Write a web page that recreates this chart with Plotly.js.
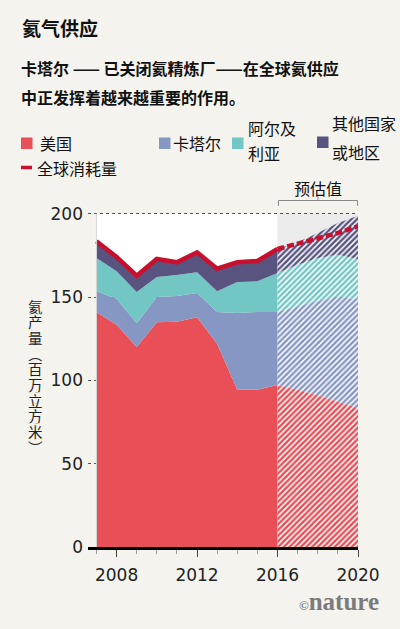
<!DOCTYPE html>
<html><head><meta charset="utf-8">
<script src="https://cdn.plot.ly/plotly-3.0.1.min.js"></script>
<style>html,body{margin:0;padding:0;background:#f4f3ed;}</style>
</head><body><div id="chart" style="width:400px;height:629px;"></div>
<script>
// ---- data (million cubic metres) ----
const years       = [2007, 2008, 2009, 2010, 2011, 2012, 2013, 2014, 2015, 2016, 2017, 2018, 2019, 2020];
const usa         = [141, 133.4, 120, 134.8, 135.2, 137.8, 122, 94.4, 94.4, 97.2, 94.4, 91, 87.2, 83.4];
const qatar       = [12.4, 15.6, 14.4, 15.2, 15.4, 14.6, 19, 46, 46.6, 43.8, 50, 56.8, 62.6, 65.4];
const algeria     = [20, 16.4, 18.6, 12, 12.6, 12.4, 12.4, 18.6, 18.4, 23.4, 25, 25.6, 25.6, 24];
const others      = [10, 8.6, 9.8, 10.8, 7.6, 12, 13.6, 11.8, 12.2, 14.4, 13.4, 15, 19, 26];
const consumption = [183.4, 174, 162.8, 172.8, 170.8, 176.8, 167, 170.8, 171.6, 178.8, 181.8, 185, 188.4, 192.4];
const lastActualYear = 2016;
const seriesNames = ['美国', '卡塔尔', '阿尔及利亚', '其他国家或地区'];
const consumptionName = '全球消耗量';
const yTicks = [0, 50, 100, 150, 200];

// ---- styles ----
const colors = ['#e84f56', '#8697c4', '#72c6c4', '#58537f'];
const lineColor = '#c8102e';
const CJK = '"Noto Sans CJK SC", "Noto Sans", sans-serif';
const NUM = '"DejaVu Sans", Verdana, sans-serif';

const W = 400, H = 629, L = 88, R = 42, T = 211, B = 82;
const pw = W - L - R, ph = H - T - B;
const px = x => (x - L) / pw;
const py = y => (H - B - y) / ph;

const split = years.indexOf(lastActualYear);
const histX = years.slice(0, split + 1);
const fcX = years.slice(split);
const allSeries = [usa, qatar, algeria, others];

const traces = [];
allSeries.forEach((vals, i) => {
  traces.push({
    type: 'scatter', mode: 'lines', name: seriesNames[i], showlegend: false,
    x: histX, y: vals.slice(0, split + 1), stackgroup: 'hist',
    line: {width: 0, color: colors[i]}, fillcolor: colors[i], hoverinfo: 'skip'
  });
});
allSeries.forEach((vals, i) => {
  traces.push({
    type: 'scatter', mode: 'lines', name: seriesNames[i], showlegend: false,
    x: fcX, y: vals.slice(split), stackgroup: 'fc',
    line: {width: 0, color: colors[i]}, fillcolor: colors[i],
    fillpattern: {shape: '/', fgcolor: colors[i], bgcolor: '#ffffff', size: 4, solidity: 0.62},
    hoverinfo: 'skip'
  });
});
traces.push({
  type: 'scatter', mode: 'lines', name: consumptionName, showlegend: false,
  x: histX, y: consumption.slice(0, split + 1),
  line: {color: lineColor, width: 4.5}, hoverinfo: 'skip'
});
traces.push({
  type: 'scatter', mode: 'lines', name: consumptionName, showlegend: false,
  x: fcX, y: consumption.slice(split),
  line: {color: lineColor, width: 4.5, dash: '7px,3px'}, hoverinfo: 'skip'
});

const annotations = [];
function txt(text, x, y, size, opts) {
  annotations.push(Object.assign({
    text: text, xref: 'paper', yref: 'paper', x: px(x), y: py(y),
    xanchor: 'left', yanchor: 'middle', showarrow: false,
    font: {family: CJK, size: size, color: '#111'}
  }, opts || {}));
}
// subtitle
txt('<b>卡塔尔 —— 已关闭氦精炼厂——在全球氦供应</b>', 19, 68, 16);
txt('<b>中正发挥着越来越重要的作用。</b>', 19, 97, 16);
// legend texts
txt('美国', 38, 143, 16);
txt('卡塔尔', 171, 143, 16);
txt('阿尔及', 246, 128, 16);
txt('利亚', 246, 153, 16);
txt('其他国家', 330, 123, 16);
txt('或地区', 330, 152, 16);
txt(consumptionName, 35, 168, 16);
// forecast label
txt('预估值', 318, 188, 16, {xanchor: 'center'});
// y-axis title, vertical stacked upright characters
const yTitle = '氦产量︵百万立方米︶';
Array.from(yTitle).forEach((ch, i) => {
  txt(ch, 35, 306 + i * 15.7, 14.5, {xanchor: 'center', height: 15.2,
    font: {family: CJK, size: 14.5, color: '#1e1e2a'}});
});
// nature logo
txt('<span style="font-size:13px">©</span>nature', 381, 601, 25,
  {xanchor: 'right', font: {family: '"Liberation Serif", serif', size: 25, color: '#7b7b7b', weight: 'bold'}});

const shapes = [
  // plot backgrounds
  {type: 'rect', xref: 'x', yref: 'y', x0: years[0], x1: lastActualYear, y0: 0, y1: 200,
   fillcolor: '#ffffff', line: {width: 0}, layer: 'below'},
  {type: 'rect', xref: 'x', yref: 'y', x0: lastActualYear, x1: years[years.length - 1], y0: 0, y1: 200,
   fillcolor: '#ebebeb', line: {width: 0}, layer: 'below'},
  // left edge line
  {type: 'line', xref: 'x', yref: 'y', x0: years[0], x1: years[0], y0: 0, y1: 200,
   line: {color: '#d6d6d6', width: 1}, layer: 'above'},
  // legend swatches
  {type: 'rect', xref: 'paper', yref: 'paper', x0: px(21), x1: px(32.5), y0: py(137.5), y1: py(149), fillcolor: colors[0], line: {width: 0}},
  {type: 'rect', xref: 'paper', yref: 'paper', x0: px(159), x1: px(170.5), y0: py(137.5), y1: py(149), fillcolor: colors[1], line: {width: 0}},
  {type: 'rect', xref: 'paper', yref: 'paper', x0: px(232), x1: px(243.5), y0: py(137.5), y1: py(149), fillcolor: colors[2], line: {width: 0}},
  {type: 'rect', xref: 'paper', yref: 'paper', x0: px(317), x1: px(328.5), y0: py(136.5), y1: py(148), fillcolor: colors[3], line: {width: 0}},
  {type: 'line', xref: 'paper', yref: 'paper', x0: px(21), x1: px(32), y0: py(167.5), y1: py(167.5), line: {color: lineColor, width: 3.5}},
  // forecast bracket
  {type: 'path', xref: 'paper', yref: 'paper',
   path: `M ${px(278.5)} ${py(206)} L ${px(278.5)} ${py(200.5)} L ${px(357.5)} ${py(200.5)} L ${px(357.5)} ${py(206)} M ${px(318)} ${py(200.5)} L ${px(318)} ${py(196.5)}`,
   line: {color: '#8a8a8a', width: 1}}
];

const layout = {
  width: W, height: H,
  margin: {l: L, r: R, t: T, b: B, pad: 0},
  paper_bgcolor: '#f4f3ed', plot_bgcolor: '#f4f3ed',
  showlegend: false,
  title: {text: '<b>氦气供应</b>', xref: 'container', yref: 'container',
          x: 22 / W, xanchor: 'left', y: 1 - 29 / H, yanchor: 'middle',
          font: {family: CJK, size: 19, color: '#111'}},
  xaxis: {
    range: [2006.58, 2020], tickmode: 'linear', tick0: 2008, dtick: 4,
    ticks: 'outside', ticklen: 7, tickwidth: 1, tickcolor: '#444',
    showline: true, linecolor: '#000', linewidth: 3,
    showgrid: false, zeroline: false, ticklabelstandoff: 4,
    tickfont: {family: NUM, size: 17, color: '#222'},
    minor: {dtick: 1, tick0: 2007, ticks: 'outside', ticklen: 4, tickcolor: '#9a9a9a', showgrid: false}
  },
  yaxis: {
    range: [0, 201.6], tickmode: 'array', tickvals: yTicks,
    ticks: '', showline: false, zeroline: false,
    showgrid: true, gridcolor: '#555', griddash: 'dot', gridwidth: 1,
    ticklabelstandoff: 4,
    tickfont: {family: NUM, size: 17, color: '#222'}
  },
  annotations: annotations,
  shapes: shapes
};

Plotly.newPlot('chart', traces, layout, {staticPlot: true, displayModeBar: false});
</script>
</body></html>
